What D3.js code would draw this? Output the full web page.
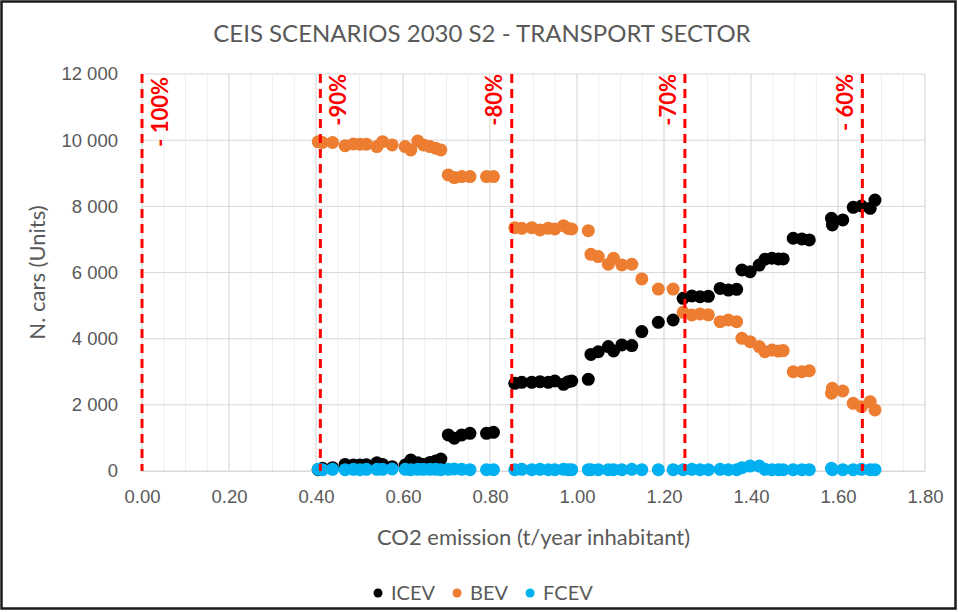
<!DOCTYPE html>
<html>
<head>
<meta charset="utf-8">
<script src="https://cdn.jsdelivr.net/npm/d3@7"></script>
<style>
  body { margin: 0; background: #fff; }
  svg { font-family: Lato, "Open Sans", sans-serif; }
</style>
</head>
<body>
<svg id="chart" width="958" height="612"></svg>
<script>
// CO2 emission per scenario (t/year inhabitant)
var co2 = [
  0.405, 0.415, 0.438, 0.467, 0.486, 0.501, 0.516, 0.540, 0.553, 0.575, 0.605, 0.618, 0.634, 0.647, 0.662, 0.675, 0.687,
  0.704, 0.718, 0.735, 0.754, 0.792, 0.808,
  0.857, 0.873, 0.896, 0.915, 0.934, 0.949, 0.969, 0.980, 0.988, 1.026,
  1.032, 1.049, 1.072, 1.084, 1.103, 1.126, 1.149, 1.187, 1.221,
  1.244, 1.264, 1.283, 1.302,
  1.329, 1.348, 1.367,
  1.379, 1.398,
  1.419, 1.432, 1.448, 1.463, 1.474,
  1.497, 1.517, 1.534,
  1.585, 1.587, 1.611,
  1.635, 1.654, 1.674, 1.685
]
var icev = [
  40, 80, 100, 200, 180, 180, 190, 250, 200, 130, 180, 330, 250, 200, 260, 300, 360,
  1090, 990, 1090, 1140, 1140, 1170,
  2650, 2680, 2680, 2700, 2680, 2720, 2620, 2700, 2720, 2770,
  3525, 3605, 3760, 3630, 3810, 3790, 4215, 4495, 4565,
  5220, 5290, 5270, 5280,
  5520, 5470, 5490,
  6075, 6025,
  6225, 6400, 6430, 6410, 6410,
  7035, 7015, 6985,
  7640, 7435, 7590,
  7970, 8010, 7940, 8190
]
var bev = [
  9950, 9930, 9930, 9835, 9885, 9880, 9880, 9805, 9955, 9855, 9805, 9705, 9975, 9855, 9805, 9755, 9705,
  8950, 8870, 8900, 8900, 8900, 8900,
  7355, 7335, 7355, 7285, 7335, 7315, 7415, 7330, 7315, 7265,
  6550, 6480, 6250, 6430, 6230, 6250, 5805, 5500, 5500,
  4795, 4715, 4745, 4720,
  4515, 4565, 4515,
  4010, 3910,
  3760, 3605, 3655, 3625, 3640,
  3000, 3000, 3030,
  2350, 2500, 2420,
  2045, 1945, 2095, 1845
]
var fcev = [
  50, 40, 50, 40, 50, 40, 50, 50, 50, 60, 50, 40, 50, 50, 50, 50, 40,
  50, 60, 50, 40, 40, 40,
  40, 50, 40, 50, 40, 40, 50, 40, 40, 40,
  40, 40, 40, 40, 40, 50, 40, 40, 40,
  40, 50, 40, 40,
  50, 40, 40,
  100, 150,
  150, 50, 40, 40, 40,
  40, 40, 40,
  80, 40, 40,
  40, 50, 40, 40
]
var seriesNames = ["ICEV", "BEV", "FCEV"]
var seriesColors = ["#000000", "#ED7D31", "#00B0F0"]

// reduction targets (dashed lines)
var reductionX = [0, 0.41, 0.85, 1.248, 1.656]
var reductionLabels = ["- 100%", "-90%", "-80%", "-70%", "- 60%"]

var xTicks = [0, 0.2, 0.4, 0.6, 0.8, 1.0, 1.2, 1.4, 1.6, 1.8]
var yTicks = [0, 2000, 4000, 6000, 8000, 10000, 12000]

var dimensions = {
    width: 958,
    height: 612,
    margin: { top: 74, bottom: 141, left: 142, right: 33 }
}

var svg = d3.select("#chart")

var xScale = d3.scaleLinear()
    .domain([0, 1.8])
    .range([dimensions.margin.left, dimensions.width - dimensions.margin.right])

var yScale = d3.scaleLinear()
    .domain([0, 12000])
    .range([dimensions.height - dimensions.margin.bottom, dimensions.margin.top])

// frame
svg.append("rect")
    .attr("x", 1.5).attr("y", 1.5)
    .attr("width", 954).attr("height", 607)
    .attr("fill", "#fff")
    .attr("stroke", "#1a1a1a")
    .attr("stroke-width", 2.5)

// minor vertical gridlines every 0.05
svg.append("g")
    .selectAll("line")
    .data(d3.range(0, 37).map(d => d * 0.05))
    .join("line")
    .attr("x1", d => xScale(d)).attr("x2", d => xScale(d))
    .attr("y1", yScale(12000)).attr("y2", yScale(0))
    .attr("stroke", "#f0f0f0")
    .attr("stroke-width", 1)

// major gridlines
svg.append("g")
    .selectAll("line")
    .data(xTicks)
    .join("line")
    .attr("x1", d => xScale(d)).attr("x2", d => xScale(d))
    .attr("y1", yScale(12000)).attr("y2", yScale(0))
    .attr("stroke", "#d9d9d9")

svg.append("g")
    .selectAll("line")
    .data(yTicks)
    .join("line")
    .attr("x1", xScale(0)).attr("x2", xScale(1.8))
    .attr("y1", d => yScale(d)).attr("y2", d => yScale(d))
    .attr("stroke", "#d9d9d9")

// axes
var fmt = d => d3.format(",")(d).replace(/,/g, " ")

var xAxisGen = d3.axisBottom(xScale)
    .tickValues(xTicks)
    .tickSize(0)
    .tickPadding(19)
    .tickFormat(d3.format(".2f"))

var yAxisGen = d3.axisLeft(yScale)
    .tickValues(yTicks)
    .tickSize(0)
    .tickPadding(24)
    .tickFormat(fmt)

svg.append("g")
    .attr("transform", "translate(0," + yScale(0) + ")")
    .call(xAxisGen)
    .call(g => g.select(".domain").attr("stroke", "#d9d9d9"))
    .selectAll("text")
    .attr("fill", "#595959")
    .style("font-size", "18.5px")

svg.append("g")
    .attr("transform", "translate(" + xScale(0) + ",0)")
    .call(yAxisGen)
    .call(g => g.select(".domain").remove())
    .selectAll("text")
    .attr("fill", "#595959")
    .style("font-size", "18.5px")

// points
var allSeries = [icev, bev, fcev]
allSeries.forEach(function(values, s) {
    svg.append("g")
        .selectAll("circle")
        .data(values)
        .join("circle")
        .attr("cx", (d, i) => xScale(co2[i]))
        .attr("cy", d => yScale(d))
        .attr("r", 6.5)
        .attr("fill", seriesColors[s])
})

// reduction lines
svg.append("g")
    .selectAll("line")
    .data(reductionX)
    .join("line")
    .attr("x1", d => xScale(d)).attr("x2", d => xScale(d))
    .attr("y1", yScale(12000)).attr("y2", yScale(0))
    .attr("stroke", "#FF0000")
    .attr("stroke-width", 3)
    .attr("stroke-dasharray", "9,6")

svg.append("g")
    .selectAll("text")
    .data(reductionX)
    .join("text")
    .attr("transform", (d, i) => "translate(" + (xScale(d) + (i < 2 ? 18 : -17)) + "," + (yScale(12000) + (i == 0 ? 3 : 0)) + ") rotate(-90)")
    .attr("dy", "0.35em")
    .attr("text-anchor", "end")
    .attr("fill", "#FF0000")
    .style("font-size", "22px")
    .style("font-weight", "bold")
    .text((d, i) => reductionLabels[i])

// titles
svg.append("text")
    .attr("x", 482)
    .attr("y", 42)
    .attr("text-anchor", "middle")
    .attr("fill", "#595959")
    .style("font-size", "24px")
    .text("CEIS SCENARIOS 2030 S2 - TRANSPORT SECTOR")

svg.append("text")
    .attr("x", (xScale(0) + xScale(1.8)) / 2)
    .attr("y", 545)
    .attr("text-anchor", "middle")
    .attr("fill", "#595959")
    .style("font-size", "22px")
    .text("CO2 emission (t/year inhabitant)")

svg.append("text")
    .attr("transform", "translate(45," + (yScale(6000)) + ") rotate(-90)")
    .attr("text-anchor", "middle")
    .attr("fill", "#595959")
    .style("font-size", "22px")
    .text("N. cars (Units)")

// legend
var legend = svg.append("g").attr("transform", "translate(378,593)")
var lx = 0
seriesNames.forEach(function(name, i) {
    var item = legend.append("g").attr("transform", "translate(" + lx + ",0)")
    item.append("circle").attr("r", 4.5).attr("fill", seriesColors[i])
    var t = item.append("text")
        .attr("x", 13)
        .attr("dy", "0.35em")
        .attr("fill", "#595959")
        .style("font-size", "20px")
        .text(name)
    lx += 13 + t.node().getComputedTextLength() + 22
})
</script>
</body>
</html>
